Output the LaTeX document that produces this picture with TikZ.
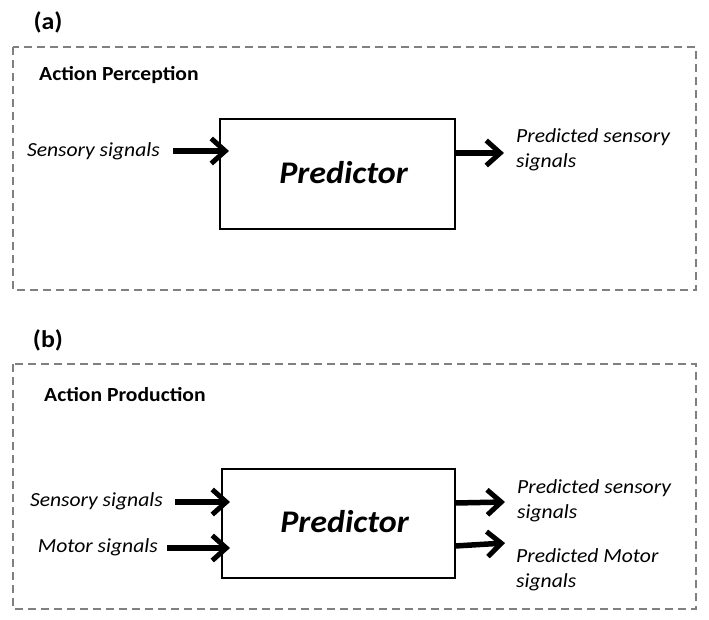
\documentclass[tikz,border=0pt]{standalone}
\usepackage{fontspec}
\setmainfont{Carlito}[FakeStretch=1.08]
\usetikzlibrary{arrows.meta}
\begin{document}
\begin{tikzpicture}[x=1pt,y=-1pt,
  frame/.style={draw=black!50, line width=1.5pt, dash pattern=on 8pt off 5pt},
  pbox/.style={draw=black, line width=1.5pt, inner sep=0pt},
  ptxt/.style={font=\fontsize{31.5}{34}\selectfont\bfseries\itshape, inner sep=0pt},
  sig/.style={font=\fontsize{20}{25}\selectfont\itshape, inner sep=0pt},
  ttl/.style={font=\fontsize{20}{22}\selectfont\bfseries, inner sep=0pt, anchor=west},
  lab/.style={font=\fontsize{24}{26}\selectfont\bfseries, inner sep=0pt},
  arr/.style={line width=5.5pt, -{Straight Barb[length=14pt,width=25pt,line width=5pt]}}
]
\useasboundingbox (0,0) rectangle (709,620);
% (a)
\node[lab] (la) at (48,22) {(a)};
\draw[frame] (13,47) rectangle (696,290);
\node[ttl] (ta) at (39,75) {Action Perception};
\node[pbox, minimum width=235pt, minimum height=110pt] (pa) at (337.5,174) {};
\node[ptxt] (pta) at (343.5,173) {Predictor};
\node[sig, anchor=east] (sa) at (160,151) {Sensory signals};
\coordinate (pa-in) at (229,151);
\draw[arr] (173,151) -- (pa-in);
\node[sig, anchor=west, align=left] (oa) at (516,150) {Predicted sensory\\signals};
\coordinate (pa-out) at (455,153);
\coordinate (pa-tip) at (504,153);
\draw[arr] (pa-out) -- (pa-tip);
% (b)
\node[lab] (lb) at (48,340) {(b)};
\draw[frame] (13,364) rectangle (696,609);
\node[ttl] (tb) at (44,395) {Action Production};
\node[pbox, minimum width=233pt, minimum height=109pt] (pb) at (338.5,523.5) {};
\node[ptxt] (ptb) at (344.5,522) {Predictor};
\node[sig, anchor=east] (sb) at (163,501) {Sensory signals};
\node[sig, anchor=east] (mb) at (158,547) {Motor signals};
\coordinate (pb-in1) at (230,502);
\coordinate (pb-in2) at (230,548);
\draw[arr] (175,502) -- (pb-in1);
\draw[arr] (167,548) -- (pb-in2);
\coordinate (pb-out1) at (455,503);
\coordinate (pb-out2) at (455,546);
\draw[arr] (pb-out1) -- (505,502);
\draw[arr] (pb-out2) -- (505,543);
\node[sig, anchor=west, align=left] (ob1) at (517,501) {Predicted sensory\\signals};
\node[sig, anchor=west, align=left] (ob2) at (516,569.5) {Predicted Motor\\signals};
\end{tikzpicture}
\end{document}
